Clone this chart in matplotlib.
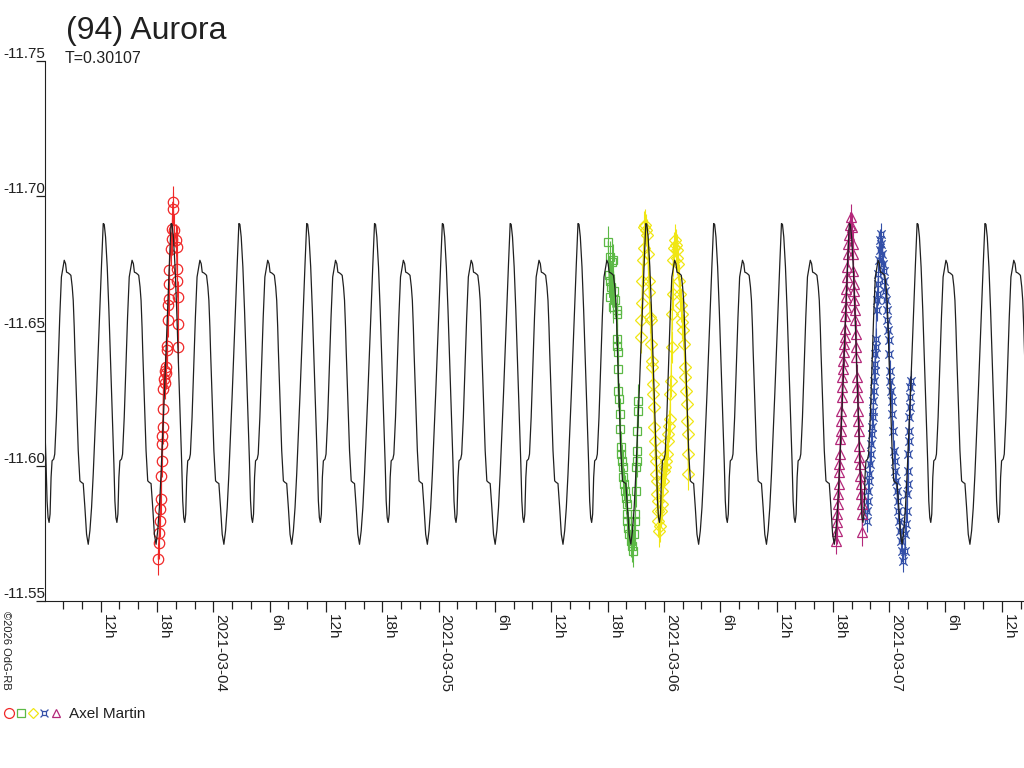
import numpy as np
import matplotlib
matplotlib.use("Agg")
import matplotlib.pyplot as plt
import matplotlib.dates as mdates
from matplotlib.path import Path
from matplotlib.lines import Line2D

plt.rcParams['font.family'] = ['Liberation Sans', 'DejaVu Sans']

# composite lightcurve (one rotation, phase 0 = secondary maximum)
period_days = 0.30107
epoch = "2021-03-07 06:03"
curve_phase = [0.0, 0.0197, 0.0344, 0.0590, 0.0835, 0.0983, 0.1179, 0.1327, 0.1474,
               0.1572, 0.1818, 0.2064, 0.2310, 0.2555, 0.2801, 0.3047, 0.3292, 0.3538,
               0.3784, 0.4029, 0.4275, 0.4521, 0.4767, 0.5012, 0.5258, 0.5504, 0.5749,
               0.5897, 0.6093, 0.6339, 0.6585, 0.6830, 0.7076, 0.7322, 0.7469, 0.7617,
               0.7764, 0.7912, 0.8059, 0.8206, 0.8452, 0.8600, 0.8845, 0.9091, 0.9337,
               0.9582]
curve_mag = [-11.6762, -11.6749, -11.6718, -11.6715, -11.6710, -11.6706, -11.6663, -11.6613,
             -11.6514, -11.6428, -11.6242, -11.6057, -11.5945, -11.5939, -11.5935, -11.5846,
             -11.5747, -11.5710, -11.5760, -11.5846, -11.5970, -11.6118, -11.6267, -11.6428,
             -11.6588, -11.6749, -11.6898, -11.6895, -11.6848, -11.6737, -11.6576, -11.6390,
             -11.6193, -11.6007, -11.5871, -11.5809, -11.5791, -11.5822, -11.5958, -11.6019,
             -11.6026, -11.6044, -11.6180, -11.6366, -11.6551, -11.6700]

# session 1 (red circles), hours UT after 2021-03-03 00:00
red_date = "2021-03-03"
red_h = [18.14, 18.18, 18.25, 18.32, 18.37, 18.40, 18.47, 18.50, 18.55, 18.57, 18.61, 18.65,
         18.69, 18.78, 18.82, 18.85, 18.91, 18.96, 19.03, 19.10, 19.14, 19.21, 19.28, 19.30,
         19.32, 19.46, 19.57, 19.62, 19.67, 19.72, 19.84, 20.03, 20.08, 20.12, 20.17, 20.21,
         20.25, 20.28]
red_mag = [-11.5655, -11.5716, -11.5753, -11.5797, -11.5840, -11.5877, -11.5964, -11.6020,
           -11.6081, -11.6112, -11.6143, -11.6211, -11.6286, -11.6323, -11.6309, -11.6353,
           -11.6346, -11.6366, -11.6428, -11.6446, -11.6539, -11.6595, -11.6619, -11.6675,
           -11.6725, -11.6805, -11.6842, -11.6879, -11.6953, -11.6978, -11.6873, -11.6836,
           -11.6811, -11.6731, -11.6687, -11.6625, -11.6527, -11.6440]
red_err = 0.006

# session 2 (green squares), hours UT after 2021-03-05 00:00
green_date = "2021-03-05"
green_h = [18.08, 18.15, 18.22, 18.26, 18.30, 18.38, 18.44, 18.55, 18.61, 18.66, 18.79, 18.97,
           19.00, 19.02, 19.04, 19.08, 19.10, 19.14, 19.18, 19.30, 19.34, 19.38, 19.43, 19.50,
           19.61, 19.67, 19.78, 19.86, 19.96, 20.04, 20.07, 20.10, 20.21, 20.31, 20.46, 20.57,
           20.68, 20.81, 20.92, 20.96, 21.00, 21.03, 21.10, 21.13, 21.17, 21.21, 21.25]
green_mag = [-11.6830, -11.6706, -11.6625, -11.6774, -11.6687, -11.6663, -11.6755, -11.6588,
             -11.6762, -11.6650, -11.6613, -11.6576, -11.6471, -11.6446, -11.6564, -11.6421,
             -11.6360, -11.6279, -11.6248, -11.6193, -11.6137, -11.6069, -11.6044, -11.6020,
             -11.5958, -11.5995, -11.5933, -11.5908, -11.5883, -11.5859, -11.5822, -11.5797,
             -11.5772, -11.5748, -11.5723, -11.5704, -11.5686, -11.5748, -11.5797, -11.5822,
             -11.5908, -11.5995, -11.6020, -11.6057, -11.6131, -11.6205, -11.6242]
green_err = 0.006

# session 3 (yellow diamonds), hours UT after 2021-03-05 00:00
yellow_date = "2021-03-05"
yellow_h = [21.53, 21.60, 21.66, 21.72, 21.80, 21.85, 21.92, 22.00, 22.09, 22.17, 22.30, 22.38,
            22.45, 22.52, 22.58, 22.65, 22.70, 22.76, 22.82, 22.87, 22.93, 22.98, 23.03, 23.08,
            23.13, 23.18, 23.23, 23.28, 23.33, 23.38, 23.42, 23.47, 23.55, 23.65, 23.76, 23.85,
            23.94, 24.03, 24.12, 24.21, 24.30, 24.40, 24.47, 24.56, 24.65, 24.70, 24.76, 24.83,
            24.88, 24.94, 25.00, 25.10, 25.18, 25.27, 25.36, 25.45, 25.53, 25.62, 25.71, 25.80,
            25.89, 25.98, 26.07, 26.16, 26.22, 26.27, 26.35, 26.43, 26.48, 26.54, 26.58, 26.62]
yellow_mag = [-11.6477, -11.6539, -11.6602, -11.6687, -11.6762, -11.6806, -11.6885, -11.6891,
              -11.6873, -11.6854, -11.6786, -11.6687, -11.6644, -11.6551, -11.6539, -11.6452,
              -11.6390, -11.6366, -11.6304, -11.6267, -11.6217, -11.6143, -11.6094, -11.6044,
              -11.6020, -11.5970, -11.5945, -11.5896, -11.5871, -11.5834, -11.5797, -11.5760,
              -11.5778, -11.5834, -11.5859, -11.5908, -11.5945, -11.5982, -11.5995, -11.6020,
              -11.6044, -11.6094, -11.6119, -11.6149, -11.6174, -11.6267, -11.6316, -11.6440,
              -11.6564, -11.6638, -11.6762, -11.6806, -11.6836, -11.6817, -11.6799, -11.6769,
              -11.6749, -11.6687, -11.6638, -11.6595, -11.6564, -11.6532, -11.6502, -11.6452,
              -11.6366, -11.6329, -11.6279, -11.6230, -11.6168, -11.6119, -11.6044, -11.5970]
yellow_err = 0.006

# session 4 (magenta triangles), hours UT after 2021-03-06 00:00
magenta_date = "2021-03-06"
magenta_h = [18.33, 18.40, 18.44, 18.48, 18.51, 18.58, 18.62, 18.65, 18.69, 18.76, 18.80, 18.83,
             18.87, 18.90, 18.94, 19.00, 19.03, 19.06, 19.11, 19.18, 19.22, 19.25, 19.29, 19.33,
             19.37, 19.40, 19.44, 19.47, 19.54, 19.58, 19.64, 19.75, 19.82, 19.93, 20.00, 20.11,
             20.17, 20.20, 20.23, 20.25, 20.28, 20.36, 20.39, 20.43, 20.46, 20.50, 20.54, 20.58,
             20.64, 20.67, 20.71, 20.74, 20.78, 20.82, 20.89, 20.92, 20.99, 21.02, 21.07, 21.13,
             21.16]
magenta_mag = [-11.5723, -11.5760, -11.5791, -11.5822, -11.5859, -11.5896, -11.5933, -11.5976,
               -11.6007, -11.6044, -11.6100, -11.6131, -11.6168, -11.6205, -11.6254, -11.6292,
               -11.6329, -11.6360, -11.6390, -11.6421, -11.6452, -11.6477, -11.6508, -11.6557,
               -11.6588, -11.6626, -11.6656, -11.6700, -11.6737, -11.6786, -11.6823, -11.6854,
               -11.6891, -11.6922, -11.6885, -11.6823, -11.6786, -11.6724, -11.6675, -11.6650,
               -11.6613, -11.6576, -11.6539, -11.6489, -11.6440, -11.6403, -11.6329, -11.6292,
               -11.6254, -11.6205, -11.6168, -11.6131, -11.6075, -11.6032, -11.6007, -11.5964,
               -11.5933, -11.5896, -11.5859, -11.5822, -11.5754]
magenta_err = 0.005

# session 5 (blue), hours UT after 2021-03-06 00:00
blue_date = "2021-03-06"
blue_h = [21.60, 21.66, 21.72, 21.78, 21.84, 21.90, 21.96, 22.02, 22.08, 22.14,
          22.20, 22.24, 22.28, 22.32, 22.36, 22.40, 22.44, 22.48, 22.52, 22.56, 22.60, 22.66,
          22.70, 22.76, 22.80, 22.86, 22.92, 22.98, 23.04, 23.10,
          23.18, 23.26, 23.34, 23.42, 23.50, 23.58, 23.66,
          23.74, 23.82, 23.90, 23.96, 24.02, 24.08, 24.14, 24.20, 24.26, 24.32, 24.40, 24.50,
          24.58, 24.66, 24.74, 24.82, 24.90, 24.98, 25.06, 25.16, 25.26, 25.38, 25.50,
          25.66, 25.74, 25.80, 25.86, 25.92, 25.96, 26.00, 26.04, 26.08, 26.12, 26.16, 26.20,
          26.23, 26.26, 26.29]
blue_mag = [-11.5797, -11.5834, -11.5871, -11.5908, -11.5945, -11.5970, -11.6007, -11.6044,
            -11.6081, -11.6118,
            -11.6143, -11.6180, -11.6205, -11.6242, -11.6279, -11.6316, -11.6353, -11.6378,
            -11.6415, -11.6440, -11.6471, -11.6576, -11.6613, -11.6638, -11.6675, -11.6712,
            -11.6762, -11.6799, -11.6836, -11.6861,
            -11.6823, -11.6786, -11.6749, -11.6724, -11.6687, -11.6650, -11.6613,
            -11.6576, -11.6539, -11.6502, -11.6465, -11.6415, -11.6353, -11.6316, -11.6279,
            -11.6242, -11.6193, -11.6131, -11.6057, -11.6019, -11.5982, -11.5945, -11.5908,
            -11.5871, -11.5834, -11.5797, -11.5760, -11.5723, -11.5686, -11.5648,
            -11.5686, -11.5747, -11.5784, -11.5834, -11.5896, -11.5933, -11.5982, -11.6044,
            -11.6094, -11.6131, -11.6180, -11.6217, -11.6254, -11.6292, -11.6316]
blue_err = 0.004

ytick_vals = [-11.75, -11.70, -11.65, -11.60, -11.55]
ytick_labels = ["-11.75", "-11.70", "-11.65", "-11.60", "-11.55"]
x_start, x_end = "2021-03-03 06:04", "2021-03-07 14:22"

title = "(94) Aurora"
subtitle = "T=0.30107"
observer = "Axel Martin"
credit = "©2026 OdG-RB"

# marker for the blue session: square with corner spurs
spur_marker = Path(
    [(-0.5, -0.5), (0.5, -0.5), (0.5, 0.5), (-0.5, 0.5), (-0.5, -0.5),
     (-0.5, -0.5), (-1, -1), (0.5, -0.5), (1, -1), (0.5, 0.5), (1, 1), (-0.5, 0.5), (-1, 1)],
    [Path.MOVETO, Path.LINETO, Path.LINETO, Path.LINETO, Path.LINETO,
     Path.MOVETO, Path.LINETO, Path.MOVETO, Path.LINETO, Path.MOVETO, Path.LINETO,
     Path.MOVETO, Path.LINETO])

sessions = [
    (red_date, red_h, red_mag, red_err, "#f02828", "o", 7.5),
    (green_date, green_h, green_mag, green_err, "#5cb946", "s", 5.5),
    (yellow_date, yellow_h, yellow_mag, yellow_err, "#f0e614", "D", 5.8),
    (blue_date, blue_h, blue_mag, blue_err, "#3450a8", spur_marker, 6),
    (magenta_date, magenta_h, magenta_mag, magenta_err, "#b4287a", "^", 6.5),
]

W, H = 1024, 768
fig = plt.figure(figsize=(W / 100, H / 100), dpi=100)
ax = fig.add_axes([45 / W, (H - 601) / H, (W - 45) / W, (601 - 61) / H])

for date, hours, mags, err, col, mk, ms in sessions:
    t = mdates.datestr2num(date) + np.array(hours) / 24.0
    ax.errorbar(t, mags, yerr=err, fmt="none", ecolor=col, elinewidth=0.8, zorder=2)
    ax.plot(t, mags, color=col, lw=0.8, marker=mk, ms=ms, mfc="none", mec=col, mew=0.9,
            zorder=2)

# model curve repeated over the whole time span
t0 = mdates.datestr2num(epoch)
ph = np.array(curve_phase)
ct, cm = [], []
for k in range(-15, 3):
    ct.extend(t0 + (k + ph) * period_days)
    cm.extend(curve_mag)
ax.plot(ct, cm, color="#202020", lw=0.9, zorder=3)

ax.set_xlim(mdates.datestr2num(x_start), mdates.datestr2num(x_end))
ax.set_ylim(-11.55, -11.75)

for s in ["top", "right"]:
    ax.spines[s].set_visible(False)
ax.spines["left"].set_color("#202020")
ax.spines["bottom"].set_color("#202020")

ax.set_yticks(ytick_vals)
ax.set_yticklabels(ytick_labels)
ax.tick_params(axis="y", length=6.5, width=0.9, pad=-6.5, labelsize=11, colors="#202020")
for lab in ax.get_yticklabels():
    lab.set_verticalalignment("bottom")


def fmt_time(x, pos=None):
    d = mdates.num2date(x)
    if d.hour == 0:
        return d.strftime("%Y-%m-%d")
    return "%dh" % d.hour


ax.xaxis.set_major_locator(mdates.HourLocator(byhour=[0, 6, 12, 18]))
ax.xaxis.set_minor_locator(mdates.HourLocator(byhour=list(range(0, 24, 2))))
ax.xaxis.set_major_formatter(plt.FuncFormatter(fmt_time))
ax.tick_params(axis="x", which="major", length=8, width=0.9, pad=1.5, labelsize=11,
               colors="#202020")
ax.tick_params(axis="x", which="minor", length=5.8, width=0.9, colors="#202020")
for lab in ax.get_xticklabels():
    lab.set_rotation(-90)
    lab.set_horizontalalignment("left")
    lab.set_verticalalignment("top")

fig.text(66 / W, 1 - 39 / H, title, fontsize=23, color="#202020", va="baseline")
fig.text(65 / W, 1 - 63 / H, subtitle, fontsize=11.5, color="#202020", va="baseline")
fig.text(1 / W, 1 - 611 / H, credit, fontsize=8, color="#202020", rotation=-90,
         ha="left", va="top")

# observer key
legend_x = [9, 21, 33, 44, 56]
for (date, hours, mags, err, col, mk, ms), lx in zip(sessions, legend_x):
    fig.add_artist(Line2D([lx / W], [1 - 713 / H], transform=fig.transFigure, marker=mk,
                          ms=ms * 0.95, mfc="none", mec=col, mew=0.9, linestyle="none"))
fig.text(69 / W, 1 - 718 / H, observer, fontsize=11, color="#202020", va="baseline")

fig.savefig("out.png", dpi=100)
